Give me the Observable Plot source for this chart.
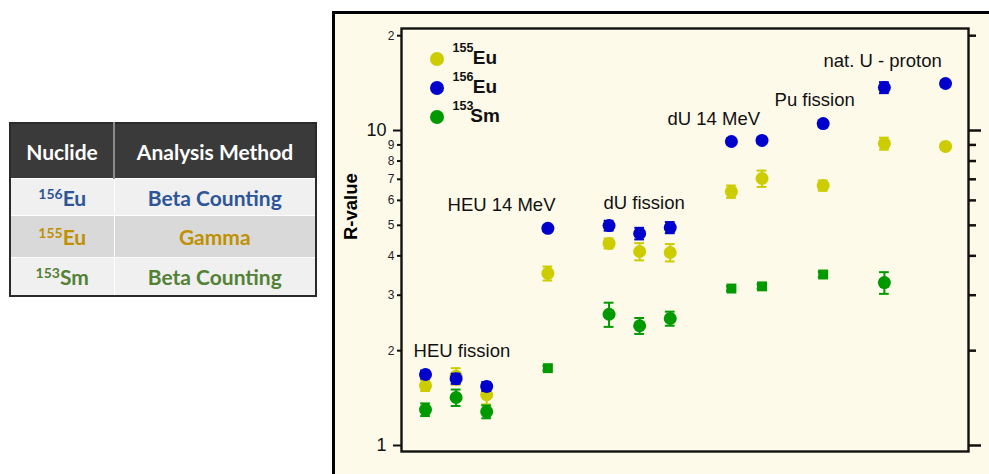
<!DOCTYPE html>
<html>
<head>
<meta charset="utf-8">
<script src="https://cdn.jsdelivr.net/npm/d3@7"></script>
<script src="https://cdn.jsdelivr.net/npm/@observablehq/plot@0.6"></script>
<style>
  html, body { margin: 0; padding: 0; background: #fff; }
  body { width: 989px; height: 474px; overflow: hidden; position: relative; font-family: "Liberation Sans", Arial, sans-serif; }
  #tbl { position: absolute; left: 9px; top: 122px; border-collapse: collapse; border: 2px solid #2a2a2a; font-family: Lato, "Open Sans", sans-serif; font-weight: bold; }
  #tbl th { background: #3a3a3a; color: #fff; height: 54px; font-size: 21px; padding: 0; text-align: center; }
  #tbl th + th { border-left: 2px solid #8c8c8c; }
  #tbl td { font-size: 21px; text-align: center; padding: 0; border: 1.5px solid #fff; }
  #tbl td sup { font-size: 14px; vertical-align: 7px; line-height: 0; }
  #panel { position: absolute; left: 332px; top: 11px; width: 720px; height: 520px; border: 3px solid #000; background: #fefaea; }
  #chart { position: absolute; left: 335px; top: 14px; }
</style>
</head>
<body>
<table id="tbl"></table>
<div id="panel"></div>
<div id="chart"></div>
<script>
// ---------- table data ----------
const tableHeaders = ["Nuclide", "Analysis Method"];
const tableMass = ["156", "155", "153"];
const tableElement = ["Eu", "Eu", "Sm"];
const tableMethod = ["Beta Counting", "Gamma", "Beta Counting"];
const tableColors = ["#2e5597", "#bf9000", "#538135"];
const tableRowBg = ["#f0f0f0", "#d9d9d9", "#f0f0f0"];
const tableRowH = [37, 42, 38];

// ---------- chart data ----------
const pos = [0, 1, 2, 4, 6, 7, 8, 10, 11, 13, 15, 17];
const eu155 = [1.55, 1.66, 1.45, 3.52, 4.38, 4.13, 4.10, 6.40, 7.04, 6.69, 9.09, 8.90];
const eu155Err = [0.06, 0.10, 0.10, 0.18, 0.16, 0.26, 0.26, 0.29, 0.42, 0.25, 0.40, 0.20];
const eu156 = [1.68, 1.63, 1.54, 4.89, 4.99, 4.71, 4.92, 9.23, 9.30, 10.52, 13.69, 14.10];
const eu156Err = [0.05, 0.06, 0.05, 0.10, 0.18, 0.20, 0.20, 0.20, 0.20, 0.25, 0.55, 0.30];
const sm153 = [1.30, 1.42, 1.28, 1.76, 2.61, 2.40, 2.53, 3.15, 3.20, 3.49, 3.29, null];
const sm153Err = [0.06, 0.085, 0.06, 0.03, 0.23, 0.14, 0.13, 0.05, 0.05, 0.07, 0.26, null];
const sm153Shape = ["circle", "circle", "circle", "square", "circle", "circle", "circle", "square", "square", "square", "circle", null];

const seriesNames = ["155Eu", "156Eu", "153Sm"];
const seriesMass = ["155", "156", "153"];
const seriesElement = ["Eu", "Eu", "Sm"];
const seriesColors = ["#cccc00", "#0000cc", "#009900"];

const groupLabels = ["HEU fission", "HEU 14 MeV", "dU fission", "dU 14 MeV", "Pu fission", "nat. U - proton"];
const groupLabelX = [-0.39, 0.72, 5.82, 7.91, 11.41, 13.01];
const groupLabelY = [2.0, 5.78, 5.87, 10.9, 12.45, 16.56];

const leftMajorTicks = [1, 10];
const leftMajorLabels = ["1", "10"];
const leftMinorTicks = [2, 3, 4, 5, 6, 7, 8, 9, 20];
const leftMinorLabels = ["2", "3", "4", "5", "6", "7", "8", "9", "2"];

// ---------- table ----------
const tbl = d3.select("#tbl");
tbl.append("colgroup").selectAll("col").data([104, 202]).join("col").style("width", d => d + "px");
tbl.append("tr").selectAll("th").data(tableHeaders).join("th").text(d => d);
tableMass.forEach((m, i) => {
  const tr = tbl.append("tr").style("background", tableRowBg[i]).style("height", tableRowH[i] + "px").style("color", tableColors[i]);
  tr.append("td").html(`<sup>${m}</sup>${tableElement[i]}`);
  tr.append("td").text(tableMethod[i]);
});

// ---------- chart ----------
const valueArrays = [eu155, eu156, sm153];
const errArrays = [eu155Err, eu156Err, sm153Err];
const shapeArrays = [pos.map(() => "circle"), pos.map(() => "circle"), sm153Shape];

const rows = [];
valueArrays.forEach((vals, s) => {
  vals.forEach((v, i) => {
    if (v == null) return;
    rows.push({series: seriesNames[s], k: pos[i], v, e: errArrays[s][i], color: seriesColors[s], shape: shapeArrays[s][i]});
  });
});
const labels = groupLabels.map((t, i) => ({t, x: groupLabelX[i], y: groupLabelY[i]}));

const W = 654, H = 460;
const marks = [
  Plot.frame({stroke: "#111", strokeWidth: 2.4}),
  Plot.axisY(leftMajorTicks, {anchor: "left", tickSize: 8, tickPadding: 7, fontSize: 18, strokeWidth: 2, stroke: "#111", fill: "#111",
    tickFormat: d => leftMajorLabels[leftMajorTicks.indexOf(d)], label: null}),
  Plot.axisY(leftMinorTicks, {anchor: "left", tickSize: 4, tickPadding: 3, fontSize: 12, strokeWidth: 2, stroke: "#111", fill: "#222",
    tickFormat: d => leftMinorLabels[leftMinorTicks.indexOf(d)], label: null}),
  Plot.axisY(leftMajorTicks, {anchor: "right", tickSize: 12, strokeWidth: 2.5, stroke: "#111", tickFormat: () => "", label: null}),
  Plot.axisY(leftMinorTicks, {anchor: "right", tickSize: 7, strokeWidth: 2.5, stroke: "#111", tickFormat: () => "", label: null}),
  Plot.text(["R-value"], {frameAnchor: "left", rotate: -90, dx: -50, fontWeight: "bold", fontSize: 18.5, fill: "#000"}),
  Plot.text(labels, {x: "x", y: "y", text: "t", textAnchor: "start", lineAnchor: "middle", fontSize: 18.5, fill: "#111"})
];
seriesNames.forEach(name => {
  const d = rows.filter(r => r.series === name);
  marks.push(
    Plot.ruleX(d, {x: "k", y1: r => r.v - r.e, y2: r => r.v + r.e, stroke: "color", strokeWidth: 2}),
    Plot.ruleY(d, {y: r => r.v + r.e, x1: r => r.k - 0.16, x2: r => r.k + 0.16, stroke: "color", strokeWidth: 2}),
    Plot.ruleY(d, {y: r => r.v - r.e, x1: r => r.k - 0.16, x2: r => r.k + 0.16, stroke: "color", strokeWidth: 2}),
    Plot.dot(d.filter(r => r.shape === "circle"), {x: "k", y: "v", fill: "color", r: 6.5, symbol: "circle"}),
    Plot.dot(d.filter(r => r.shape === "square"), {x: "k", y: "v", fill: "color", r: 5.6, symbol: "square"})
  );
});

const chart = Plot.plot({
  width: W, height: H,
  marginLeft: 66, marginRight: 21, marginTop: 14, marginBottom: 23,
  style: {background: "transparent", fontFamily: "'Liberation Sans', Arial, sans-serif", overflow: "visible"},
  x: {type: "linear", domain: [-0.785, 17.75], axis: null},
  y: {type: "log", domain: [0.957, 21.08], axis: null},
  color: {type: "identity"},
  marks
});
document.getElementById("chart").appendChild(chart);

// legend inside plot
const svg = d3.select(chart);
const lg = svg.append("g").attr("font-family", "'Liberation Sans', Arial, sans-serif").attr("font-weight", "bold").attr("fill", "#111");
seriesNames.forEach((n, i) => {
  const cy = 45 + i * 29;
  lg.append("circle").attr("cx", 102).attr("cy", cy).attr("r", 7).attr("fill", seriesColors[i]);
  lg.append("text").attr("x", 128).attr("y", cy - 7).attr("font-size", 12.5).text(seriesMass[i]);
  lg.append("text").attr("x", 150).attr("y", cy + 5).attr("font-size", 19).text(seriesElement[i]);
});
</script>
</body>
</html>
